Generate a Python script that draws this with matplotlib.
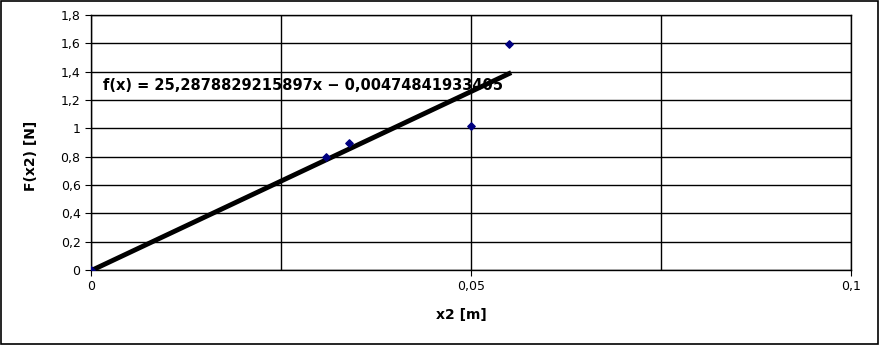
import numpy as np
import matplotlib.pyplot as plt
from matplotlib.ticker import FixedLocator, FuncFormatter

plt.rcParams['font.family'] = ['DejaVu Sans']

# measured points
x2 = [0.0, 0.0309, 0.0339, 0.0500, 0.0550]
force = [0.0, 0.797, 0.893, 1.013, 1.592]

# trend line from the chart's equation
slope = 25.2878829215897
intercept = -0.00474841933405
eq_text = "f(x) = 25,2878829215897x \u2212 0,00474841933405"

fig = plt.figure(figsize=(8.8, 3.45), dpi=100)
ax = fig.add_axes([91 / 880, 75 / 345, 760 / 880, 255 / 345])

# figure border
fig.patches.append(plt.Rectangle((0.001, 0.002), 0.997, 0.995, transform=fig.transFigure,
                                 fill=False, edgecolor="black", linewidth=1.2))

xs = np.array([0.0, max(x2)])
ax.plot(xs, slope * xs + intercept, color="black", linewidth=3.5, zorder=3)
ax.scatter(x2, force, marker="D", s=14, color="#000080", zorder=4)

ax.set_xlim(0, 0.1)
ax.set_ylim(0, 1.8)
ax.xaxis.set_major_locator(FixedLocator([0, 0.05, 0.1]))
ax.xaxis.set_minor_locator(FixedLocator([0.025, 0.075]))
ax.yaxis.set_major_locator(FixedLocator(np.arange(0, 1.81, 0.2)))

def comma(v, pos):
    s = f"{v:.2f}".rstrip("0").rstrip(".")
    return s.replace(".", ",")

ax.xaxis.set_major_formatter(FuncFormatter(comma))
ax.yaxis.set_major_formatter(FuncFormatter(comma))
ax.grid(True, which="both", color="black", linewidth=1)
ax.set_axisbelow(True)
ax.tick_params(axis="both", which="major", direction="out", length=4.5, pad=3, labelsize=9)
ax.tick_params(axis="x", which="minor", length=0)
for sp in ax.spines.values():
    sp.set_linewidth(1)

ax.text(0.0016, 1.30, eq_text, fontsize=10.5, fontweight="bold", va="center", ha="left")
ax.set_xlabel("x2 [m]", fontsize=10, fontweight="bold", va="center")
ax.set_ylabel("F(x2) [N]", fontsize=10, fontweight="bold", va="center")
ax.xaxis.set_label_coords(0.487, -0.176)
ax.yaxis.set_label_coords(-0.079, 0.447)

fig.savefig("out.png", dpi=100)
